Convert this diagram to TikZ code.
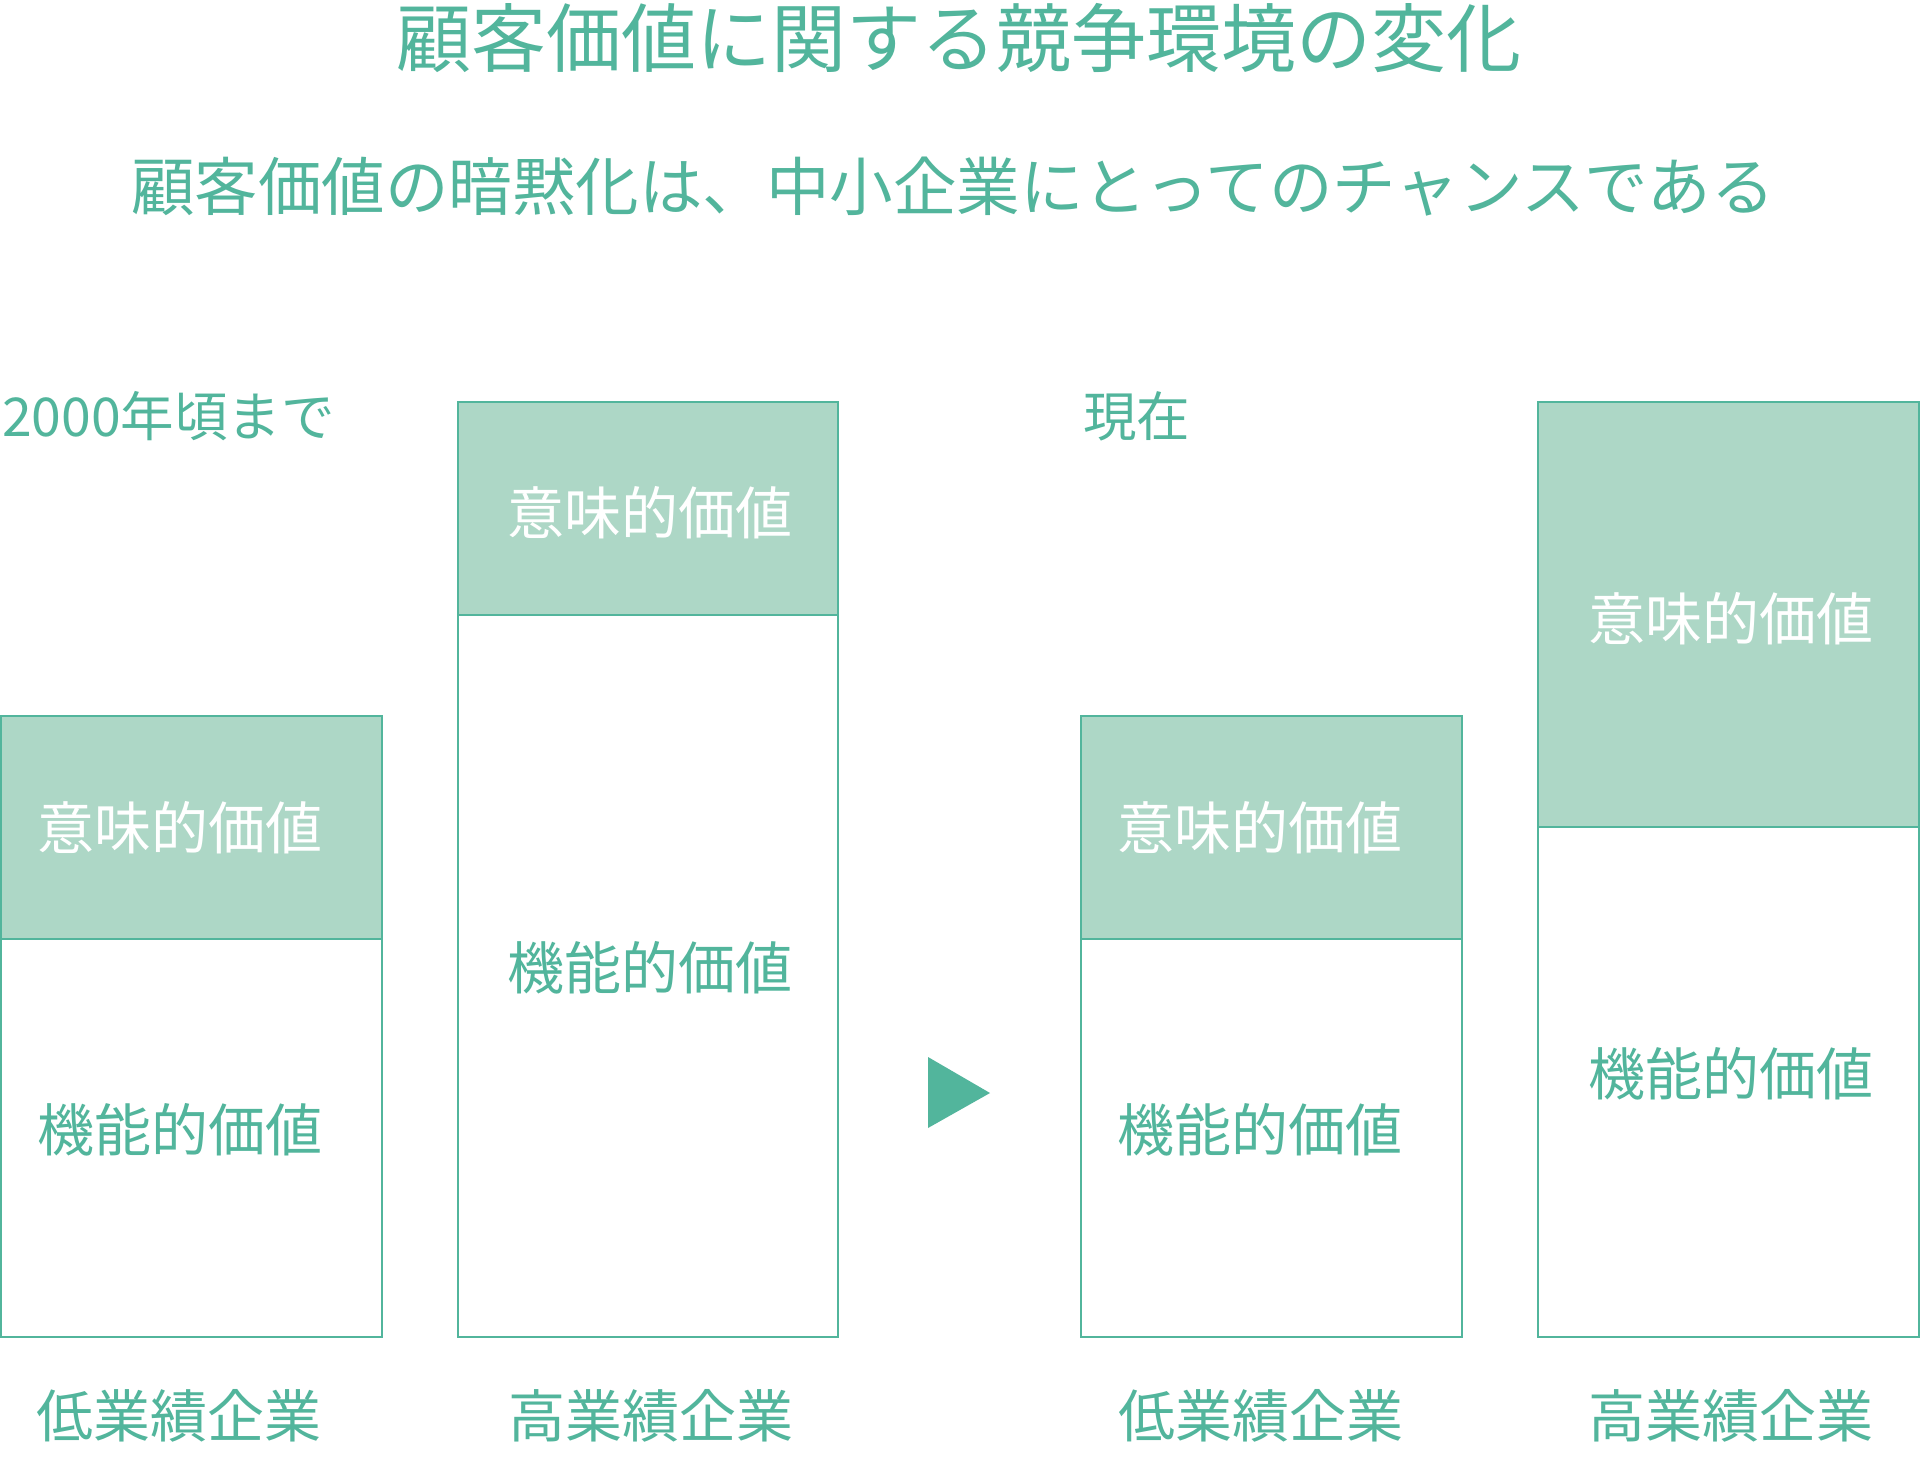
\documentclass[tikz,border=0pt]{standalone}
\usepackage{fontspec}
\setmainfont{Noto Sans CJK JP}
\definecolor{tealc}{RGB}{82,181,156}
\definecolor{fillc}{RGB}{173,215,198}
\tikzset{
  boxline/.style={draw=tealc, line width=2.5pt, inner sep=0pt},
  topbox/.style={boxline, fill=fillc},
  botbox/.style={boxline, fill=white},
  intxt/.style={text=white, inner sep=0pt, font=\fontsize{57}{60}\selectfont},
  fntxt/.style={text=tealc, inner sep=0pt, font=\fontsize{57}{60}\selectfont},
  lbl/.style={text=tealc, inner sep=0pt, font=\fontsize{57}{60}\selectfont},
  era/.style={text=tealc, inner sep=0pt, anchor=west, font=\fontsize{53.5}{58}\selectfont},
}
\begin{document}
\begin{tikzpicture}[x=1pt,y=-1pt]
\useasboundingbox (0,0) rectangle (1920,1459);
\fill[white] (0,0) rectangle (1920,1459);
% titles
\node[text=tealc, inner sep=0pt, font=\fontsize{75}{80}\selectfont] (title) at (959,38) {顧客価値に関する競争環境の変化};
\node[text=tealc, inner sep=0pt, font=\fontsize{63.5}{70}\selectfont] (sub) at (953,187) {顧客価値の暗黙化は、中小企業にとってのチャンスである};
% era labels
\node[era] (e1) at (2,416) {2000年頃まで};
\node[era] (e2) at (1083,416) {現在};
% box 1
\node[botbox, minimum width=381pt, minimum height=398pt] (b1) at (191.5,1138) {};
\node[topbox, minimum width=381pt, minimum height=223pt] (a1) at (191.5,827.5) {};
% box 2
\node[botbox, minimum width=380pt, minimum height=722pt] (b2) at (648,976) {};
\node[topbox, minimum width=380pt, minimum height=213pt] (a2) at (648,508.5) {};
% box 3
\node[botbox, minimum width=381pt, minimum height=398pt] (b3) at (1271.5,1138) {};
\node[topbox, minimum width=381pt, minimum height=223pt] (a3) at (1271.5,827.5) {};
% box 4
\node[botbox, minimum width=381pt, minimum height=510pt] (b4) at (1728.5,1082) {};
\node[topbox, minimum width=381pt, minimum height=425pt] (a4) at (1728.5,614.5) {};
% inner labels
\node[intxt] (t1) at (180,828) {意味的価値};
\node[fntxt] (f1) at (180,1130) {機能的価値};
\node[intxt] (t2) at (650,513) {意味的価値};
\node[fntxt] (f2) at (650,968) {機能的価値};
\node[intxt] (t3) at (1260,828) {意味的価値};
\node[fntxt] (f3) at (1260,1130) {機能的価値};
\node[intxt] (t4) at (1731,619) {意味的価値};
\node[fntxt] (f4) at (1731,1074) {機能的価値};
% bottom labels
\node[lbl] (l1) at (179,1416) {低業績企業};
\node[lbl] (l2) at (651,1416) {高業績企業};
\node[lbl] (l3) at (1261,1416) {低業績企業};
\node[lbl] (l4) at (1731,1416) {高業績企業};
% arrow triangle
\fill[tealc] (928,1057) -- (990,1093) -- (928,1128) -- cycle;
\end{tikzpicture}
\end{document}
